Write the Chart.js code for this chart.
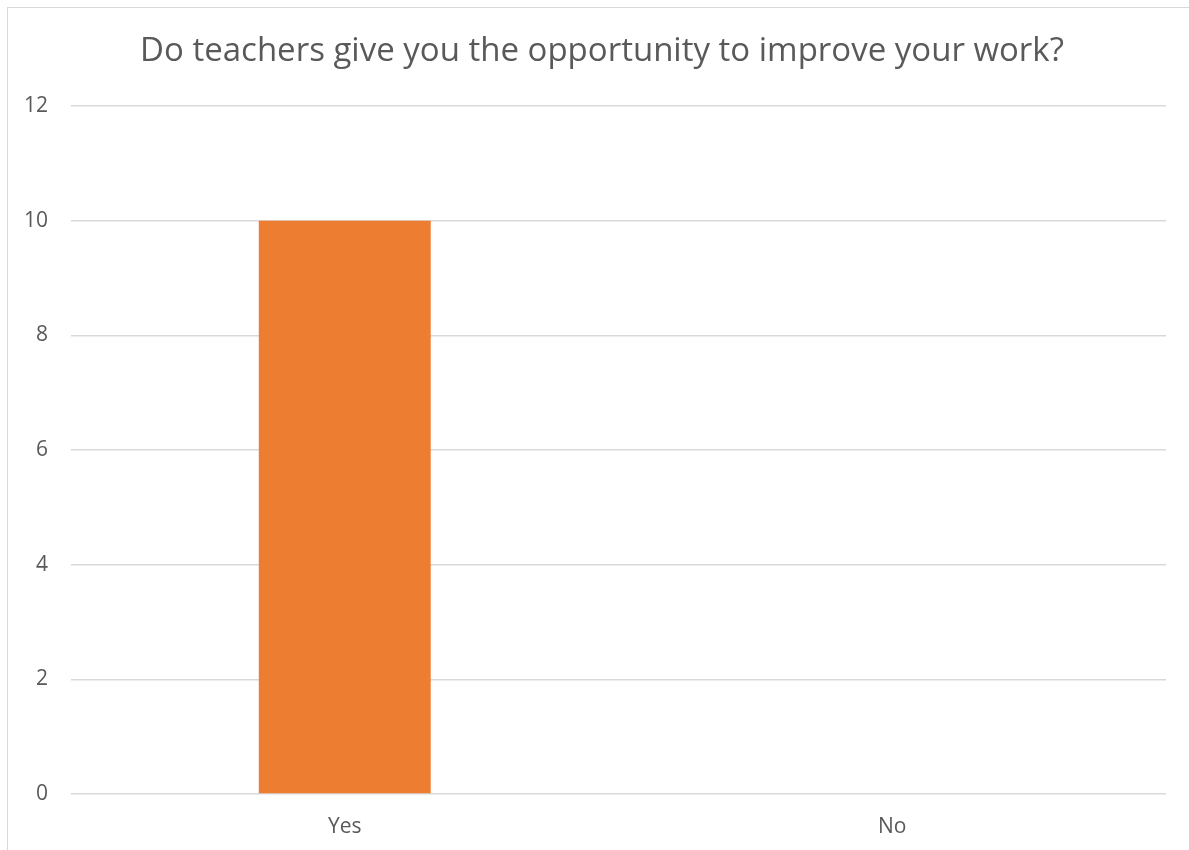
<!DOCTYPE html>
<html>
<head>
<meta charset="utf-8">
<script src="https://cdn.jsdelivr.net/npm/chart.js@4"></script>
<style>
  html,body{margin:0;padding:0;background:#fff;}
  #wrap{position:relative;width:1189px;height:850px;overflow:hidden;}
  #frame{position:absolute;left:7px;top:7px;width:1300px;height:1000px;border:1.5px solid #d9d9d9;box-sizing:border-box;}
  canvas{position:absolute;left:0;top:0;}
</style>
</head>
<body>
<div id="wrap">
  <div id="frame"></div>
  <canvas id="chart" width="1189" height="850"></canvas>
</div>
<script>
// -------- DATA ----------
const categories = ['Yes', 'No'];
const answers    = [10, 0];
const yTicks     = [0, 2, 4, 6, 8, 10, 12];
const titleText  = 'Do teachers give you the opportunity to improve your work?';

const textColor = '#595959';
const gridColor = '#d9d9d9';
const fontFam   = '"Open Sans", "Noto Sans", Arial, sans-serif';

// plugin: title centred on the whole chart frame (Excel style)
const frameTitle = {
  id:'frameTitle',
  afterDraw(chart){
    const {ctx} = chart;
    ctx.save();
    ctx.fillStyle = textColor;
    ctx.font = `33px ${fontFam}`;
    ctx.textAlign = 'center';
    ctx.textBaseline = 'middle';
    ctx.fillText(titleText, 602, 52);
    ctx.restore();
  }
};

new Chart(document.getElementById('chart').getContext('2d'), {
  type:'bar',
  data:{
    labels:categories,
    datasets:[{
      data:answers,
      backgroundColor:'#ed7d31',
      borderWidth:0,
      barPercentage:.314,
      categoryPercentage:1
    }]
  },
  options:{
    responsive:false,
    animation:false,
    layout:{padding:{left:0,right:23,top:106,bottom:0}},
    plugins:{
      legend:{display:false},
      tooltip:{enabled:false},
      title:{display:false}
    },
    scales:{
      x:{
        afterFit(scale){ scale.height = 56; },
        grid:{display:false},
        border:{display:false},
        ticks:{color:textColor,font:{family:fontFam,size:21},padding:12}
      },
      y:{
        min:0,max:12,
        afterFit(scale){ scale.width = 71; },
        afterBuildTicks(scale){ scale.ticks = yTicks.map(v=>({value:v})); },
        grid:{color:gridColor,lineWidth:1.5,drawTicks:false},
        border:{display:false},
        ticks:{color:textColor,font:{family:fontFam,size:21},padding:23}
      }
    }
  },
  plugins:[frameTitle]
});
</script>
</body>
</html>
